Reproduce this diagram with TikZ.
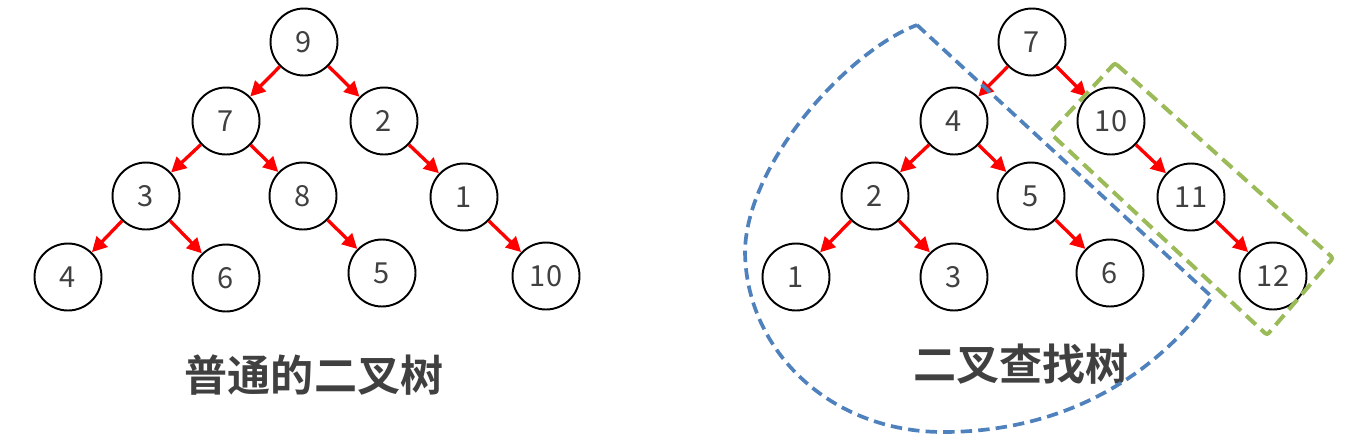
\documentclass[tikz,border=0pt]{standalone}
\usepackage{fontspec}
\setmainfont{Noto Sans CJK SC}[BoldFont={Noto Sans CJK SC Bold}]
\usepackage{xcolor}
\usetikzlibrary{positioning, arrows.meta}

\definecolor{txtgray}{HTML}{404040}
\definecolor{bluedash}{HTML}{4F81BD}
\definecolor{greendash}{HTML}{9BBB59}

\begin{document}
\begin{tikzpicture}[
    x=0.02cm, y=-0.02cm,
    vtx/.style={circle, draw=black, line width=1.1pt, minimum size=1.34cm, inner sep=0pt, font=\fontsize{16.5}{18}\selectfont, text=txtgray},
    arr/.style={-{Triangle[length=8.5pt, width=8.5pt]}, line width=1.9pt, red},
    title/.style={font=\bfseries\fontsize{24.5}{28}\selectfont, text=txtgray},
    bluezone/.style={draw=bluedash, line width=2.1pt, dash pattern=on 6.5pt off 3.5pt},
    greenzone/.style={draw=greendash, line width=2.3pt, dash pattern=on 7.5pt off 4pt, rounded corners=1.5pt},
]
\useasboundingbox (0,0) rectangle (1367,440);

% ---------- plain binary tree (left) ----------
\node[vtx] (l9)  at (304,42)  {9};
\node[vtx] (l7)  at (226,121) {7};
\node[vtx] (l2)  at (384,121) {2};
\node[vtx] (l3)  at (146,196) {3};
\node[vtx] (l8)  at (303,196) {8};
\node[vtx] (l1)  at (464,197) {1};
\node[vtx] (l4)  at (68,277)  {4};
\node[vtx] (l6)  at (226,278) {6};
\node[vtx] (l5)  at (382,273) {5};
\node[vtx] (l10) at (546,276) {10};

\draw[arr] (l9) -- (l7);
\draw[arr] (l9) -- (l2);
\draw[arr] (l7) -- (l3);
\draw[arr] (l7) -- (l8);
\draw[arr] (l2) -- (l1);
\draw[arr] (l3) -- (l4);
\draw[arr] (l3) -- (l6);
\draw[arr] (l8) -- (l5);
\draw[arr] (l1) -- (l10);

\node[title] (ltitle) at (314,375) {普通的二叉树};

% ---------- binary search tree (right) ----------
\node[vtx] (r7)  at (1032,42)  {7};
\node[vtx] (r4)  at (954,121)  {4};
\node[vtx] (r10) at (1111,121) {10};
\node[vtx] (r2)  at (875,196)  {2};
\node[vtx] (r5)  at (1031,196) {5};
\node[vtx] (r11) at (1191,197) {11};
\node[vtx] (r1)  at (796,277)  {1};
\node[vtx] (r3)  at (954,277)  {3};
\node[vtx] (r6)  at (1110,273) {6};
\node[vtx] (r12) at (1273,276) {12};

\draw[arr] (r7) -- (r4);
\draw[arr] (r7) -- (r10);
\draw[arr] (r4) -- (r2);
\draw[arr] (r4) -- (r5);
\draw[arr] (r10) -- (r11);
\draw[arr] (r2) -- (r1);
\draw[arr] (r2) -- (r3);
\draw[arr] (r5) -- (r6);
\draw[arr] (r11) -- (r12);

\node[title] (rtitle) at (1021,364) {二叉查找树};

% left subtree outline
\coordinate (btop) at (917,25);
\coordinate (bcorner) at (1212,297);
\coordinate (bbottom) at (943,432);
\coordinate (bleft) at (745,250);
\draw[bluezone] (btop) -- (bcorner)
    .. controls (1152,380) and (1060,432) .. (bbottom)
    .. controls (830,432) and (745,350) .. (bleft)
    .. controls (748,160) and (850,50) .. cycle;

% right chain outline
\coordinate (gtop) at (1115,63);
\coordinate (gright) at (1333,258);
\coordinate (gbottom) at (1267,335);
\coordinate (gleft) at (1050,133);
\draw[greenzone] (gtop) -- (gright) -- (gbottom) -- (gleft) -- cycle;

\end{tikzpicture}
\end{document}
